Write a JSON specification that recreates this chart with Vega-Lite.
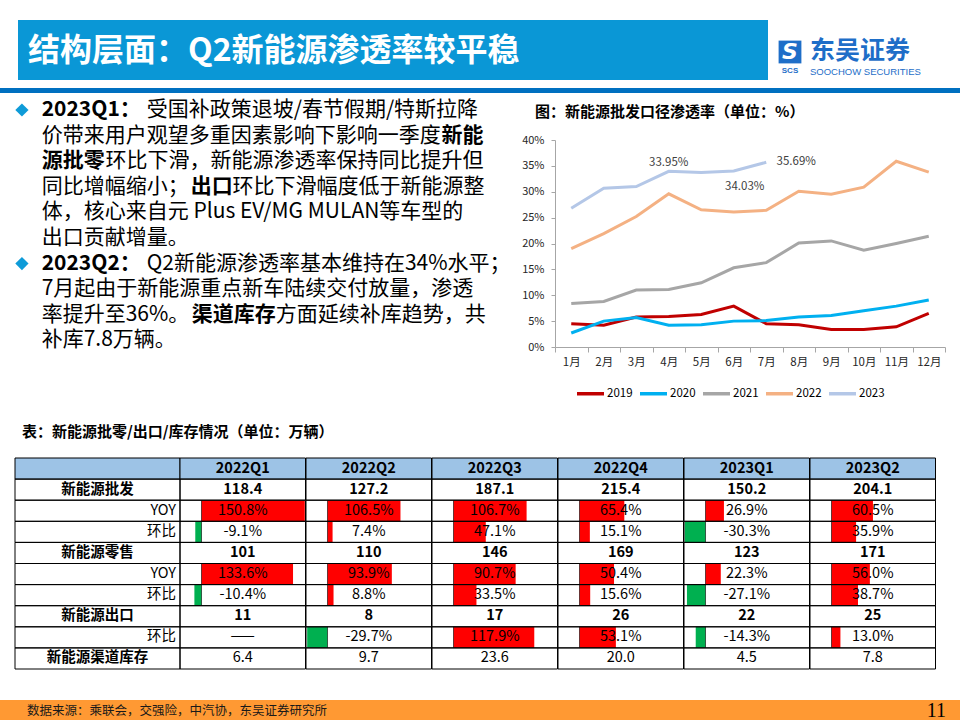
{
  "$schema": "https://vega.github.io/schema/vega-lite/v6.json",
  "background": "white",
  "padding": 0,
  "spacing": 0,
  "config": {
    "view": {"stroke": null},
    "font": "Noto Sans CJK SC",
    "concat": {"spacing": 0},
    "facet": {"spacing": 0}
  },
  "vconcat": [
    {"width": 960, "height": 20, "data": {"values": []}, "mark": "point"},
    {
      "bounds": "flush",
      "hconcat": [
        {"width": 18, "height": 60, "data": {"values": []}, "mark": "point"},
        {
          "width": 750, "height": 60,
          "view": {"fill": "#0A97D6", "stroke": null},
          "data": {"values": [{"t": "结构层面：Q2新能源渗透率较平稳"}]},
          "mark": {"type": "text", "align": "left", "baseline": "middle", "fontSize": 32, "fontWeight": "bold", "color": "#FFFFFF"},
          "encoding": {"text": {"field": "t"}, "x": {"value": 10}, "y": {"value": 31}}
        },
        {"width": 9, "height": 60, "data": {"values": []}, "mark": "point"},
        {
          "width": 183, "height": 60,
          "layer": [
            {"data": {"values": [{"t": "icon"}]}, "mark": {"type": "point", "shape": "square", "filled": true, "size": 520, "color": "#1E6EC8", "opacity": 1}, "encoding": {"x": {"value": 13}, "y": {"value": 32}}},
            {"data": {"values": [{"t": "S"}]}, "mark": {"type": "text", "align": "center", "baseline": "middle", "fontSize": 22, "fontWeight": "bold", "fontStyle": "italic", "color": "#FFFFFF", "font": "DejaVu Sans"}, "encoding": {"text": {"field": "t"}, "x": {"value": 13}, "y": {"value": 32}}},
            {"data": {"values": [{"t": "SCS"}]}, "mark": {"type": "text", "align": "center", "baseline": "middle", "fontSize": 8, "fontWeight": "bold", "color": "#1E6EC8", "font": "Liberation Sans"}, "encoding": {"text": {"field": "t"}, "x": {"value": 13}, "y": {"value": 51}}},
            {"data": {"values": [{"t": "东吴证券"}]}, "mark": {"type": "text", "align": "left", "baseline": "middle", "fontSize": 25, "fontWeight": "bold", "color": "#1E6EC8"}, "encoding": {"text": {"field": "t"}, "x": {"value": 33}, "y": {"value": 31}}},
            {"data": {"values": [{"t": "SOOCHOW SECURITIES"}]}, "mark": {"type": "text", "align": "left", "baseline": "middle", "fontSize": 9.5, "color": "#1E6EC8", "font": "Liberation Sans"}, "encoding": {"text": {"field": "t"}, "x": {"value": 33}, "y": {"value": 52}}}
          ]
        }
      ]
    },
    {"width": 960, "height": 8, "data": {"values": []}, "mark": "point"},
    {"width": 960, "height": 5, "view": {"fill": "#0070C0", "stroke": null}, "data": {"values": []}, "mark": "point"},
    {
      "bounds": "flush",
      "hconcat": [
        {
          "width": 510, "height": 322,
          "data": {"values": [
            {"kind": "bullet", "ln": 1, "c": -0.93},
            {"kind": "bullet", "ln": 7, "c": -0.93},
            {"kind": "text", "ln": 1, "c": 0, "em": true, "t": "2023Q1："},
            {"kind": "text", "ln": 1, "c": 4.94, "em": false, "t": "受国补政策退坡/春节假期/特斯拉降"},
            {"kind": "text", "ln": 2, "c": 0, "em": false, "t": "价带来用户观望多重因素影响下影响一季度"},
            {"kind": "text", "ln": 2, "c": 18.82, "em": true, "t": "新能"},
            {"kind": "text", "ln": 3, "c": 0, "em": true, "t": "源批零"},
            {"kind": "text", "ln": 3, "c": 3.0, "em": false, "t": "环比下滑，新能源渗透率保持同比提升但"},
            {"kind": "text", "ln": 4, "c": 0, "em": false, "t": "同比增幅缩小；"},
            {"kind": "text", "ln": 4, "c": 7.01, "em": true, "t": "出口"},
            {"kind": "text", "ln": 4, "c": 8.98, "em": false, "t": "环比下滑幅度低于新能源整"},
            {"kind": "text", "ln": 5, "c": 0, "em": false, "t": "体，核心来自元 Plus EV/MG MULAN等车型的"},
            {"kind": "text", "ln": 6, "c": 0, "em": false, "t": "出口贡献增量。"},
            {"kind": "text", "ln": 7, "c": 0, "em": true, "t": "2023Q2："},
            {"kind": "text", "ln": 7, "c": 4.94, "em": false, "t": "Q2新能源渗透率基本维持在34%水平；"},
            {"kind": "text", "ln": 8, "c": 0, "em": false, "t": "7月起由于新能源重点新车陆续交付放量，渗透"},
            {"kind": "text", "ln": 9, "c": 0, "em": false, "t": "率提升至36%。"},
            {"kind": "text", "ln": 9, "c": 7.06, "em": true, "t": "渠道库存"},
            {"kind": "text", "ln": 9, "c": 11.02, "em": false, "t": "方面延续补库趋势，共"},
            {"kind": "text", "ln": 10, "c": 0, "em": false, "t": "补库7.8万辆。"}
          ]},
          "encoding": {
            "x": {"field": "c", "type": "quantitative", "scale": {"domain": [-1.962, 22.04], "zero": false, "nice": false}, "axis": null},
            "y": {"field": "ln", "type": "quantitative", "scale": {"domain": [0.3359, 12.914], "zero": false, "nice": false, "reverse": true}, "axis": null}
          },
          "layer": [
            {"transform": [{"filter": "datum.kind == 'bullet'"}], "mark": {"type": "point", "shape": "diamond", "filled": true, "size": 175, "color": "#0E9BD8", "opacity": 1}},
            {"transform": [{"filter": "datum.kind == 'text' && !datum.em"}], "mark": {"type": "text", "align": "left", "baseline": "middle", "fontSize": 21, "color": "#000000"}, "encoding": {"text": {"field": "t"}}},
            {"transform": [{"filter": "datum.kind == 'text' && datum.em"}], "mark": {"type": "text", "align": "left", "baseline": "middle", "fontSize": 21, "fontWeight": "bold", "color": "#000000"}, "encoding": {"text": {"field": "t"}}}
          ]
        },
        {"width": 45, "height": 322, "data": {"values": []}, "mark": "point"},
        {
          "bounds": "flush",
          "vconcat": [
            {
              "width": 390, "height": 47,
              "data": {"values": [{"t": "图：新能源批发口径渗透率（单位：%）"}]},
              "mark": {"type": "text", "align": "left", "baseline": "middle", "fontSize": 15, "fontWeight": "bold", "color": "#000000"},
              "encoding": {"text": {"field": "t"}, "x": {"value": -20}, "y": {"value": 19}}
            },
            {
              "width": 390, "height": 207,
              "data": {"values": [
                {"s": "2019", "m": "1月", "v": 0.045}, {"s": "2019", "m": "2月", "v": 0.042}, {"s": "2019", "m": "3月", "v": 0.058}, {"s": "2019", "m": "4月", "v": 0.059},
                {"s": "2019", "m": "5月", "v": 0.063}, {"s": "2019", "m": "6月", "v": 0.079}, {"s": "2019", "m": "7月", "v": 0.045}, {"s": "2019", "m": "8月", "v": 0.043},
                {"s": "2019", "m": "9月", "v": 0.034}, {"s": "2019", "m": "10月", "v": 0.034}, {"s": "2019", "m": "11月", "v": 0.039}, {"s": "2019", "m": "12月", "v": 0.065},
                {"s": "2020", "m": "1月", "v": 0.027}, {"s": "2020", "m": "2月", "v": 0.050}, {"s": "2020", "m": "3月", "v": 0.057}, {"s": "2020", "m": "4月", "v": 0.042},
                {"s": "2020", "m": "5月", "v": 0.043}, {"s": "2020", "m": "6月", "v": 0.050}, {"s": "2020", "m": "7月", "v": 0.051}, {"s": "2020", "m": "8月", "v": 0.058},
                {"s": "2020", "m": "9月", "v": 0.061}, {"s": "2020", "m": "10月", "v": 0.070}, {"s": "2020", "m": "11月", "v": 0.079}, {"s": "2020", "m": "12月", "v": 0.091},
                {"s": "2021", "m": "1月", "v": 0.084}, {"s": "2021", "m": "2月", "v": 0.088}, {"s": "2021", "m": "3月", "v": 0.110}, {"s": "2021", "m": "4月", "v": 0.111},
                {"s": "2021", "m": "5月", "v": 0.124}, {"s": "2021", "m": "6月", "v": 0.153}, {"s": "2021", "m": "7月", "v": 0.163}, {"s": "2021", "m": "8月", "v": 0.201},
                {"s": "2021", "m": "9月", "v": 0.205}, {"s": "2021", "m": "10月", "v": 0.187}, {"s": "2021", "m": "11月", "v": 0.200}, {"s": "2021", "m": "12月", "v": 0.214},
                {"s": "2022", "m": "1月", "v": 0.190}, {"s": "2022", "m": "2月", "v": 0.219}, {"s": "2022", "m": "3月", "v": 0.252}, {"s": "2022", "m": "4月", "v": 0.296},
                {"s": "2022", "m": "5月", "v": 0.265}, {"s": "2022", "m": "6月", "v": 0.261}, {"s": "2022", "m": "7月", "v": 0.264}, {"s": "2022", "m": "8月", "v": 0.301},
                {"s": "2022", "m": "9月", "v": 0.295}, {"s": "2022", "m": "10月", "v": 0.309}, {"s": "2022", "m": "11月", "v": 0.359}, {"s": "2022", "m": "12月", "v": 0.338},
                {"s": "2023", "m": "1月", "v": 0.268}, {"s": "2023", "m": "2月", "v": 0.307}, {"s": "2023", "m": "3月", "v": 0.310}, {"s": "2023", "m": "4月", "v": 0.3395},
                {"s": "2023", "m": "5月", "v": 0.337}, {"s": "2023", "m": "6月", "v": 0.3403}, {"s": "2023", "m": "7月", "v": 0.3569}
              ]},
              "encoding": {
                "x": {"field": "m", "type": "ordinal", "bandPosition": 0.5,
                  "sort": ["1月", "2月", "3月", "4月", "5月", "6月", "7月", "8月", "9月", "10月", "11月", "12月"],
                  "scale": {"type": "band", "paddingInner": 0, "paddingOuter": 0},
                  "axis": {"title": null, "labelAngle": 0, "tickBand": "extent", "tickSize": 5, "tickColor": "#A6A6A6", "domainColor": "#A6A6A6", "labelFontSize": 11.5, "labelColor": "#262626", "labelPadding": 4, "grid": false}},
                "y": {"field": "v", "type": "quantitative",
                  "scale": {"domain": [0, 0.4], "nice": false},
                  "axis": {"title": null, "format": ".0%", "values": [0, 0.05, 0.1, 0.15, 0.2, 0.25, 0.3, 0.35, 0.4], "grid": false, "tickSize": 4, "tickColor": "#A6A6A6", "domainColor": "#A6A6A6", "labelFontSize": 11, "labelColor": "#262626", "labelPadding": 7}}
              },
              "layer": [
                {"mark": {"type": "line", "strokeWidth": 3},
                  "encoding": {"color": {"field": "s", "type": "nominal",
                    "scale": {"domain": ["2019", "2020", "2021", "2022", "2023"], "range": ["#C00000", "#00B0F0", "#A6A6A6", "#F4B183", "#B4C7E7"]},
                    "legend": {"orient": "none", "legendX": 575, "legendY": 378, "direction": "horizontal", "columns": 5, "title": null, "symbolType": "stroke", "symbolSize": 729, "symbolStrokeWidth": 3.5, "labelFontSize": 11.5, "labelColor": "#000000", "labelOffset": 1, "columnPadding": 0}}}},
                {"transform": [{"filter": "datum.s == '2023' && datum.m == '4月'"}], "mark": {"type": "text", "dy": -8, "fontSize": 11.5, "color": "#404040"}, "encoding": {"text": {"field": "v", "format": ".2%"}}},
                {"transform": [{"filter": "datum.s == '2023' && datum.m == '6月'"}], "mark": {"type": "text", "dx": 11, "dy": 16, "fontSize": 11.5, "color": "#404040"}, "encoding": {"text": {"field": "v", "format": ".2%"}}},
                {"transform": [{"filter": "datum.s == '2023' && datum.m == '7月'"}], "mark": {"type": "text", "dx": 30, "dy": 0, "fontSize": 11.5, "color": "#404040"}, "encoding": {"text": {"field": "v", "format": ".2%"}}}
              ]
            },
            {"width": 390, "height": 68, "data": {"values": []}, "mark": "point"}
          ]
        }
      ]
    },
    {
      "width": 960, "height": 42,
      "data": {"values": [{"t": "表：新能源批零/出口/库存情况（单位：万辆）"}]},
      "mark": {"type": "text", "align": "left", "baseline": "middle", "fontSize": 15, "fontWeight": "bold", "color": "#000000"},
      "encoding": {"text": {"field": "t"}, "x": {"value": 22}, "y": {"value": 17}}
    },
    {
      "bounds": "flush",
      "hconcat": [
        {"width": 15, "height": 211, "data": {"values": []}, "mark": "point"},
        {
          "width": 165, "height": 211,
          "data": {"values": [
            {"r": "r0", "t": "", "g": "h"},
            {"r": "r1", "t": "新能源批发", "g": "m"},
            {"r": "r2", "t": "YOY", "g": "s"},
            {"r": "r3", "t": "环比", "g": "s"},
            {"r": "r4", "t": "新能源零售", "g": "m"},
            {"r": "r5", "t": "YOY", "g": "s"},
            {"r": "r6", "t": "环比", "g": "s"},
            {"r": "r7", "t": "新能源出口", "g": "m"},
            {"r": "r8", "t": "环比", "g": "s"},
            {"r": "r9", "t": "新能源渠道库存", "g": "m"}
          ]},
          "encoding": {"y": {"field": "r", "type": "nominal", "scale": {"domain": ["r0", "r1", "r2", "r3", "r4", "r5", "r6", "r7", "r8", "r9"], "paddingInner": 0, "paddingOuter": 0}, "axis": null}},
          "layer": [
            {"transform": [{"filter": "datum.g == 'h'"}], "mark": {"type": "rect", "fill": "#9DC3E6"}, "encoding": {"x": {"value": 0}, "x2": {"value": "width"}}},
            {"mark": {"type": "rect", "fillOpacity": 0, "stroke": "#000000", "strokeWidth": 1}, "encoding": {"x": {"value": 0}, "x2": {"value": "width"}}},
            {"transform": [{"filter": "datum.g == 'm'"}], "mark": {"type": "text", "align": "center", "baseline": "middle", "fontSize": 14.5, "fontWeight": "bold", "color": "#000000"}, "encoding": {"text": {"field": "t"}}},
            {"transform": [{"filter": "datum.g == 's'"}], "mark": {"type": "text", "align": "right", "baseline": "middle", "dx": -4, "fontSize": 14.5, "color": "#000000"}, "encoding": {"text": {"field": "t"}, "x": {"value": "width"}}}
          ]
        },
        {
          "data": {"values": [
            {"q": "2022Q1", "r": "r0", "k": "h", "t": "2022Q1"},
            {"q": "2022Q1", "r": "r1", "k": "b", "t": "118.4"},
            {"q": "2022Q1", "r": "r2", "k": "p", "v": 150.8, "t": "150.8%"},
            {"q": "2022Q1", "r": "r3", "k": "p", "v": -9.1, "t": "-9.1%"},
            {"q": "2022Q1", "r": "r4", "k": "b", "t": "101"},
            {"q": "2022Q1", "r": "r5", "k": "p", "v": 133.6, "t": "133.6%"},
            {"q": "2022Q1", "r": "r6", "k": "p", "v": -10.4, "t": "-10.4%"},
            {"q": "2022Q1", "r": "r7", "k": "b", "t": "11"},
            {"q": "2022Q1", "r": "r8", "k": "p", "t": "——"},
            {"q": "2022Q1", "r": "r9", "k": "n", "t": "6.4"},
            {"q": "2022Q2", "r": "r0", "k": "h", "t": "2022Q2"},
            {"q": "2022Q2", "r": "r1", "k": "b", "t": "127.2"},
            {"q": "2022Q2", "r": "r2", "k": "p", "v": 106.5, "t": "106.5%"},
            {"q": "2022Q2", "r": "r3", "k": "p", "v": 7.4, "t": "7.4%"},
            {"q": "2022Q2", "r": "r4", "k": "b", "t": "110"},
            {"q": "2022Q2", "r": "r5", "k": "p", "v": 93.9, "t": "93.9%"},
            {"q": "2022Q2", "r": "r6", "k": "p", "v": 8.8, "t": "8.8%"},
            {"q": "2022Q2", "r": "r7", "k": "b", "t": "8"},
            {"q": "2022Q2", "r": "r8", "k": "p", "v": -29.7, "t": "-29.7%"},
            {"q": "2022Q2", "r": "r9", "k": "n", "t": "9.7"},
            {"q": "2022Q3", "r": "r0", "k": "h", "t": "2022Q3"},
            {"q": "2022Q3", "r": "r1", "k": "b", "t": "187.1"},
            {"q": "2022Q3", "r": "r2", "k": "p", "v": 106.7, "t": "106.7%"},
            {"q": "2022Q3", "r": "r3", "k": "p", "v": 47.1, "t": "47.1%"},
            {"q": "2022Q3", "r": "r4", "k": "b", "t": "146"},
            {"q": "2022Q3", "r": "r5", "k": "p", "v": 90.7, "t": "90.7%"},
            {"q": "2022Q3", "r": "r6", "k": "p", "v": 33.5, "t": "33.5%"},
            {"q": "2022Q3", "r": "r7", "k": "b", "t": "17"},
            {"q": "2022Q3", "r": "r8", "k": "p", "v": 117.9, "t": "117.9%"},
            {"q": "2022Q3", "r": "r9", "k": "n", "t": "23.6"},
            {"q": "2022Q4", "r": "r0", "k": "h", "t": "2022Q4"},
            {"q": "2022Q4", "r": "r1", "k": "b", "t": "215.4"},
            {"q": "2022Q4", "r": "r2", "k": "p", "v": 65.4, "t": "65.4%"},
            {"q": "2022Q4", "r": "r3", "k": "p", "v": 15.1, "t": "15.1%"},
            {"q": "2022Q4", "r": "r4", "k": "b", "t": "169"},
            {"q": "2022Q4", "r": "r5", "k": "p", "v": 50.4, "t": "50.4%"},
            {"q": "2022Q4", "r": "r6", "k": "p", "v": 15.6, "t": "15.6%"},
            {"q": "2022Q4", "r": "r7", "k": "b", "t": "26"},
            {"q": "2022Q4", "r": "r8", "k": "p", "v": 53.1, "t": "53.1%"},
            {"q": "2022Q4", "r": "r9", "k": "n", "t": "20.0"},
            {"q": "2023Q1", "r": "r0", "k": "h", "t": "2023Q1"},
            {"q": "2023Q1", "r": "r1", "k": "b", "t": "150.2"},
            {"q": "2023Q1", "r": "r2", "k": "p", "v": 26.9, "t": "26.9%"},
            {"q": "2023Q1", "r": "r3", "k": "p", "v": -30.3, "t": "-30.3%"},
            {"q": "2023Q1", "r": "r4", "k": "b", "t": "123"},
            {"q": "2023Q1", "r": "r5", "k": "p", "v": 22.3, "t": "22.3%"},
            {"q": "2023Q1", "r": "r6", "k": "p", "v": -27.1, "t": "-27.1%"},
            {"q": "2023Q1", "r": "r7", "k": "b", "t": "22"},
            {"q": "2023Q1", "r": "r8", "k": "p", "v": -14.3, "t": "-14.3%"},
            {"q": "2023Q1", "r": "r9", "k": "n", "t": "4.5"},
            {"q": "2023Q2", "r": "r0", "k": "h", "t": "2023Q2"},
            {"q": "2023Q2", "r": "r1", "k": "b", "t": "204.1"},
            {"q": "2023Q2", "r": "r2", "k": "p", "v": 60.5, "t": "60.5%"},
            {"q": "2023Q2", "r": "r3", "k": "p", "v": 35.9, "t": "35.9%"},
            {"q": "2023Q2", "r": "r4", "k": "b", "t": "171"},
            {"q": "2023Q2", "r": "r5", "k": "p", "v": 56.0, "t": "56.0%"},
            {"q": "2023Q2", "r": "r6", "k": "p", "v": 38.7, "t": "38.7%"},
            {"q": "2023Q2", "r": "r7", "k": "b", "t": "25"},
            {"q": "2023Q2", "r": "r8", "k": "p", "v": 13.0, "t": "13.0%"},
            {"q": "2023Q2", "r": "r9", "k": "n", "t": "7.8"}
          ]},
          "facet": {"column": {"field": "q", "type": "ordinal", "header": null, "sort": ["2022Q1", "2022Q2", "2022Q3", "2022Q4", "2023Q1", "2023Q2"]}},
          "spacing": 0,
          "bounds": "flush",
          "spec": {
            "width": 125.5, "height": 211,
            "encoding": {"y": {"field": "r", "type": "nominal", "scale": {"domain": ["r0", "r1", "r2", "r3", "r4", "r5", "r6", "r7", "r8", "r9"], "paddingInner": 0, "paddingOuter": 0}, "axis": null}},
            "layer": [
              {"transform": [{"filter": "datum.k == 'h'"}], "mark": {"type": "rect", "fill": "#9DC3E6"}, "encoding": {"x": {"value": 0}, "x2": {"value": "width"}}},
              {"transform": [{"filter": "isValid(datum.v)"}], "mark": {"type": "bar"},
                "encoding": {
                  "x": {"field": "v", "type": "quantitative", "scale": {"domain": [-31.4, 151.8], "nice": false, "zero": false}, "axis": null},
                  "x2": {"datum": 0},
                  "color": {"condition": {"test": "datum.v < 0", "value": "#00B050"}, "value": "#FF0000"}}},
              {"transform": [{"filter": "isValid(datum.v)"}], "mark": {"type": "tick", "orient": "vertical", "thickness": 1, "size": 21, "color": "#000000", "opacity": 0.6},
                "encoding": {"x": {"datum": 0, "type": "quantitative", "scale": {"domain": [-31.4, 151.8], "nice": false, "zero": false}, "axis": null}}},
              {"mark": {"type": "rect", "fillOpacity": 0, "stroke": "#000000", "strokeWidth": 1}, "encoding": {"x": {"value": 0}, "x2": {"value": "width"}}},
              {"transform": [{"filter": "datum.k == 'h' || datum.k == 'b'"}], "mark": {"type": "text", "align": "center", "baseline": "middle", "fontSize": 14.5, "fontWeight": "bold", "color": "#000000"},
                "encoding": {"text": {"field": "t"}, "x": {"datum": 60.2, "type": "quantitative", "scale": {"domain": [-31.4, 151.8], "nice": false, "zero": false}, "axis": null}}},
              {"transform": [{"filter": "datum.k == 'p' || datum.k == 'n'"}], "mark": {"type": "text", "align": "center", "baseline": "middle", "fontSize": 14.5, "color": "#000000"},
                "encoding": {"text": {"field": "t"}, "x": {"datum": 60.2, "type": "quantitative", "scale": {"domain": [-31.4, 151.8], "nice": false, "zero": false}, "axis": null}}}
            ]
          }
        }
      ]
    },
    {"width": 960, "height": 30, "data": {"values": []}, "mark": "point"},
    {
      "width": 960, "height": 22,
      "view": {"fill": "#FF9933", "stroke": null},
      "layer": [
        {"data": {"values": [{"t": "数据来源：乘联会，交强险，中汽协，东吴证券研究所"}]}, "mark": {"type": "text", "align": "left", "baseline": "middle", "fontSize": 12.5, "color": "#1A1A1A"}, "encoding": {"text": {"field": "t"}, "x": {"value": 27}, "y": {"value": 11}}},
        {"data": {"values": [{"t": "11"}]}, "mark": {"type": "text", "align": "right", "baseline": "middle", "fontSize": 20, "color": "#000000", "font": "Liberation Serif"}, "encoding": {"text": {"field": "t"}, "x": {"value": 946}, "y": {"value": 11}}}
      ]
    }
  ]
}
